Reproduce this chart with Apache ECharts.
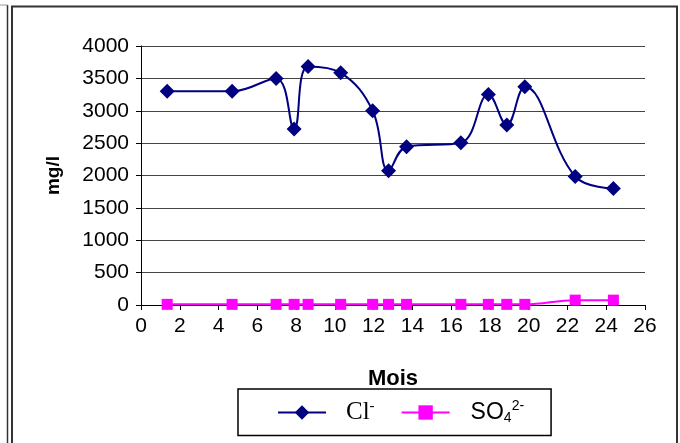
<!DOCTYPE html>
<html>
<head>
<meta charset="utf-8">
<script src="https://cdn.jsdelivr.net/npm/echarts@6/dist/echarts.min.js"></script>
<style>
  html, body { margin: 0; padding: 0; background: #fff; }
  #chart { width: 680px; height: 443px; }
</style>
</head>
<body>
<div id="chart"></div>
<script>
// Sampling months (x) and concentrations in mg/l
const months = [1.35, 4.7, 6.97, 7.9, 8.62, 10.3, 11.95, 12.77, 13.7, 16.5, 17.92, 18.87, 19.8, 22.4, 24.37];
const chloride = [3300, 3300, 3500, 2720, 3685, 3585, 3000, 2075, 2445, 2505, 3250, 2780, 3370, 1985, 1800];
const sulfate = [10, 10, 10, 10, 10, 10, 10, 10, 10, 10, 10, 10, 10, 75, 75];

const xTicks = { min: 0, max: 26, interval: 2 };
const yTicks = { min: 0, max: 4000, interval: 500 };

const pairs = (xs, ys) => xs.map((x, i) => [x, ys[i]]);

const chart = echarts.init(document.getElementById('chart'), null, { renderer: 'canvas' });

const labelFont = 'Liberation Sans, Arial, sans-serif';
const serifFont = 'Liberation Serif, Times New Roman, serif';

chart.setOption({
  animation: false,
  backgroundColor: '#ffffff',
  grid: { left: 141, right: 35, top: 46, bottom: 138, containLabel: false },
  xAxis: {
    type: 'value',
    min: xTicks.min, max: xTicks.max, interval: xTicks.interval,
    name: 'Mois',
    nameLocation: 'middle',
    nameGap: 63,
    nameTextStyle: { fontFamily: labelFont, fontWeight: 'bold', fontSize: 22, color: '#000' },
    axisLine: { lineStyle: { color: '#000', width: 1 } },
    axisTick: { show: true, length: 5, inside: false, lineStyle: { color: '#000' } },
    axisLabel: { fontFamily: labelFont, fontSize: 21, color: '#000', margin: 11,
                 formatter: v => String(v) },
    splitLine: { show: false }
  },
  yAxis: {
    type: 'value',
    min: yTicks.min, max: yTicks.max, interval: yTicks.interval,
    name: 'mg/l',
    nameLocation: 'middle',
    nameGap: 78,
    nameRotate: 90,
    nameTextStyle: { fontFamily: labelFont, fontWeight: 'bold', fontSize: 19, color: '#000' },
    axisLine: { show: true, lineStyle: { color: '#000', width: 1 } },
    axisTick: { show: true, length: 5, inside: false, lineStyle: { color: '#000' } },
    axisLabel: { fontFamily: labelFont, fontSize: 21, color: '#000', margin: 12,
                 formatter: v => String(v) },
    splitLine: { show: true, lineStyle: { color: '#444', width: 1 } }
  },
  legend: {
    left: 238,
    top: 389,
    orient: 'horizontal',
    backgroundColor: '#fff',
    borderColor: '#000',
    borderWidth: 1.5,
    borderRadius: 0,
    padding: [10, 27, 10, 39],
    itemGap: 26,
    itemWidth: 48,
    itemHeight: 18,
    data: ['Cl-', 'SO42-'],
    formatter: function (name) {
      if (name === 'Cl-') return '{cl|Cl}{clsup|-}';
      return '{so|SO}{sub|4}{sup|2-}';
    },
    textStyle: {
      color: '#000',
      rich: {
        cl: { fontFamily: serifFont, fontSize: 25, padding: [0, 0, 0, 15], color: '#000' },
        clsup: { fontFamily: serifFont, fontSize: 15, verticalAlign: 'top', padding: [0, 0, 12, 0], color: '#000' },
        so: { fontFamily: labelFont, fontSize: 23, padding: [0, 0, 0, 16], color: '#000' },
        sub: { fontFamily: labelFont, fontSize: 14, verticalAlign: 'bottom', padding: [6, 0, 0, 0], color: '#000' },
        sup: { fontFamily: labelFont, fontSize: 14, verticalAlign: 'top', padding: [0, 0, 12, 0], color: '#000' }
      }
    }
  },
  graphic: [
    { type: 'rect', silent: true, shape: { x: 12, y: 6.5, width: 665, height: 450 },
      style: { fill: 'none', stroke: '#333', lineWidth: 2 } },
    { type: 'line', silent: true, shape: { x1: 7.5, y1: 5, x2: 7.5, y2: 443 },
      style: { stroke: '#333', lineWidth: 1.5 } },
    { type: 'line', silent: true, shape: { x1: 0, y1: 5, x2: 7.5, y2: 5 },
      style: { stroke: '#999', lineWidth: 1 } }
  ],
  series: [
    {
      name: 'Cl-',
      type: 'line',
      data: pairs(months, chloride),
      smooth: 0.4,
      symbol: 'diamond',
      symbolSize: 15,
      lineStyle: { color: '#000080', width: 2 },
      itemStyle: { color: '#000080' },
      z: 3
    },
    {
      name: 'SO42-',
      type: 'line',
      data: pairs(months, sulfate),
      smooth: 0.4,
      symbol: 'rect',
      symbolSize: 11,
      lineStyle: { color: '#ff00ff', width: 2 },
      itemStyle: { color: '#ff00ff' },
      z: 2
    }
  ]
});
</script>
</body>
</html>
